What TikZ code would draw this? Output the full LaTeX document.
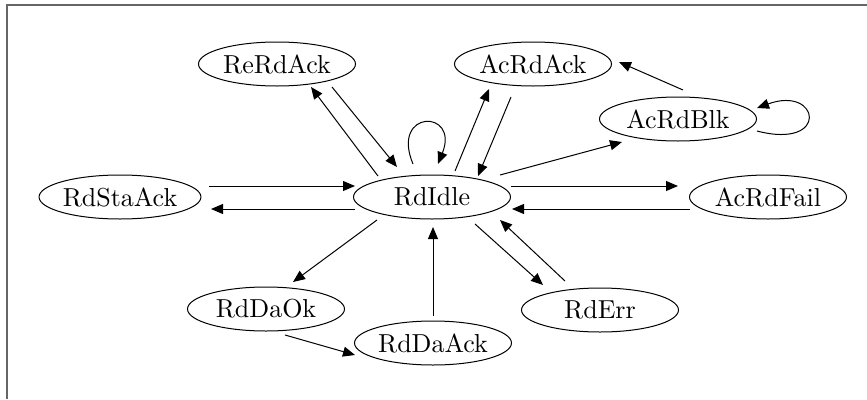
\documentclass[tikz,border=0pt]{standalone}
\usepackage{fontspec}
\setmainfont{lmroman10-regular.otf}
\usetikzlibrary{shapes.geometric,arrows.meta,calc}

\tikzset{
  state/.style={ellipse, draw, line width=1pt, minimum width=157pt,
    minimum height=44pt, inner sep=0pt,
    font=\fontsize{26}{30}\selectfont},
  arr/.style={line width=1pt, -{Triangle[length=12pt,width=10pt]}},
  frame/.style={line width=1.3pt, black!60}
}

\begin{document}
\begin{tikzpicture}[x=1pt, y=-1pt]
  \useasboundingbox (0,0) rectangle (867,399);
  \draw[frame] (7,399) -- (7,5) -- (867,5);

  % states
  \node[state] (RdIdle)   at (432,197) {RdIdle};
  \node[state] (ReRdAck)  at (277,64)  {ReRdAck};
  \node[state] (AcRdAck)  at (533,64)  {AcRdAck};
  \node[state] (AcRdBlk)  at (678,119) {AcRdBlk};
  \node[state] (RdStaAck) at (120,197) {RdStaAck};
  \node[state] (AcRdFail) at (768,197) {AcRdFail};
  \node[state] (RdDaOk)   at (266,309) {RdDaOk};
  \node[state] (RdDaAck)  at (433,343) {RdDaAck};
  \node[state] (RdErr)    at (600,310) {RdErr};

  % transitions
  \draw[arr] ($(ReRdAck)+(55,23)$) -- ($(RdIdle)+(-35,-30)$);
  \draw[arr] ($(RdIdle)+(-54,-21)$) -- ($(ReRdAck)+(34,23)$);
  \draw[arr] ($(RdIdle)+(-19,-33)$) .. controls ($(RdIdle)+(-42,-88)$)
             and ($(RdIdle)+(28,-88)$) .. ($(RdIdle)+(6,-33)$);
  \draw[arr] ($(RdStaAck)+(89,-11)$) -- ($(RdIdle)+(-77,-11)$);
  \draw[arr] ($(RdIdle)+(-77,12)$) -- ($(RdStaAck)+(91,12)$);
  \draw[arr] ($(RdIdle)+(23,-26)$) -- ($(AcRdAck)+(-44,25)$);
  \draw[arr] ($(AcRdAck)+(-22,33)$) -- ($(RdIdle)+(46,-21)$);
  \draw[arr] ($(AcRdBlk)+(5,-29)$) -- ($(AcRdAck)+(86,-2)$);
  \draw[arr] ($(RdIdle)+(68,-22)$) -- ($(AcRdBlk)+(-56,23)$);
  \draw[arr] ($(RdIdle)+(79,-11)$) -- ($(AcRdFail)+(-90,-11)$);
  \draw[arr] ($(AcRdFail)+(-78,12)$) -- ($(RdIdle)+(80,12)$);
  \draw[arr] ($(AcRdBlk)+(79,12)$) .. controls ($(AcRdBlk)+(152,31)$)
             and ($(AcRdBlk)+(142,-34)$) .. ($(AcRdBlk)+(79,-11)$);
  \draw[arr] ($(RdIdle)+(-55,23)$) -- ($(RdDaOk)+(27,-27)$);
  \draw[arr] ($(RdDaAck)+(0,-27)$) -- ($(RdIdle)+(1,30)$);
  \draw[arr] ($(RdDaOk)+(19,26)$) -- ($(RdDaAck)+(-78,12)$);
  \draw[arr] ($(RdIdle)+(43,27)$) -- ($(RdErr)+(-57,-25)$);
  \draw[arr] ($(RdErr)+(-35,-29)$) -- ($(RdIdle)+(68,23)$);
\end{tikzpicture}
\end{document}
